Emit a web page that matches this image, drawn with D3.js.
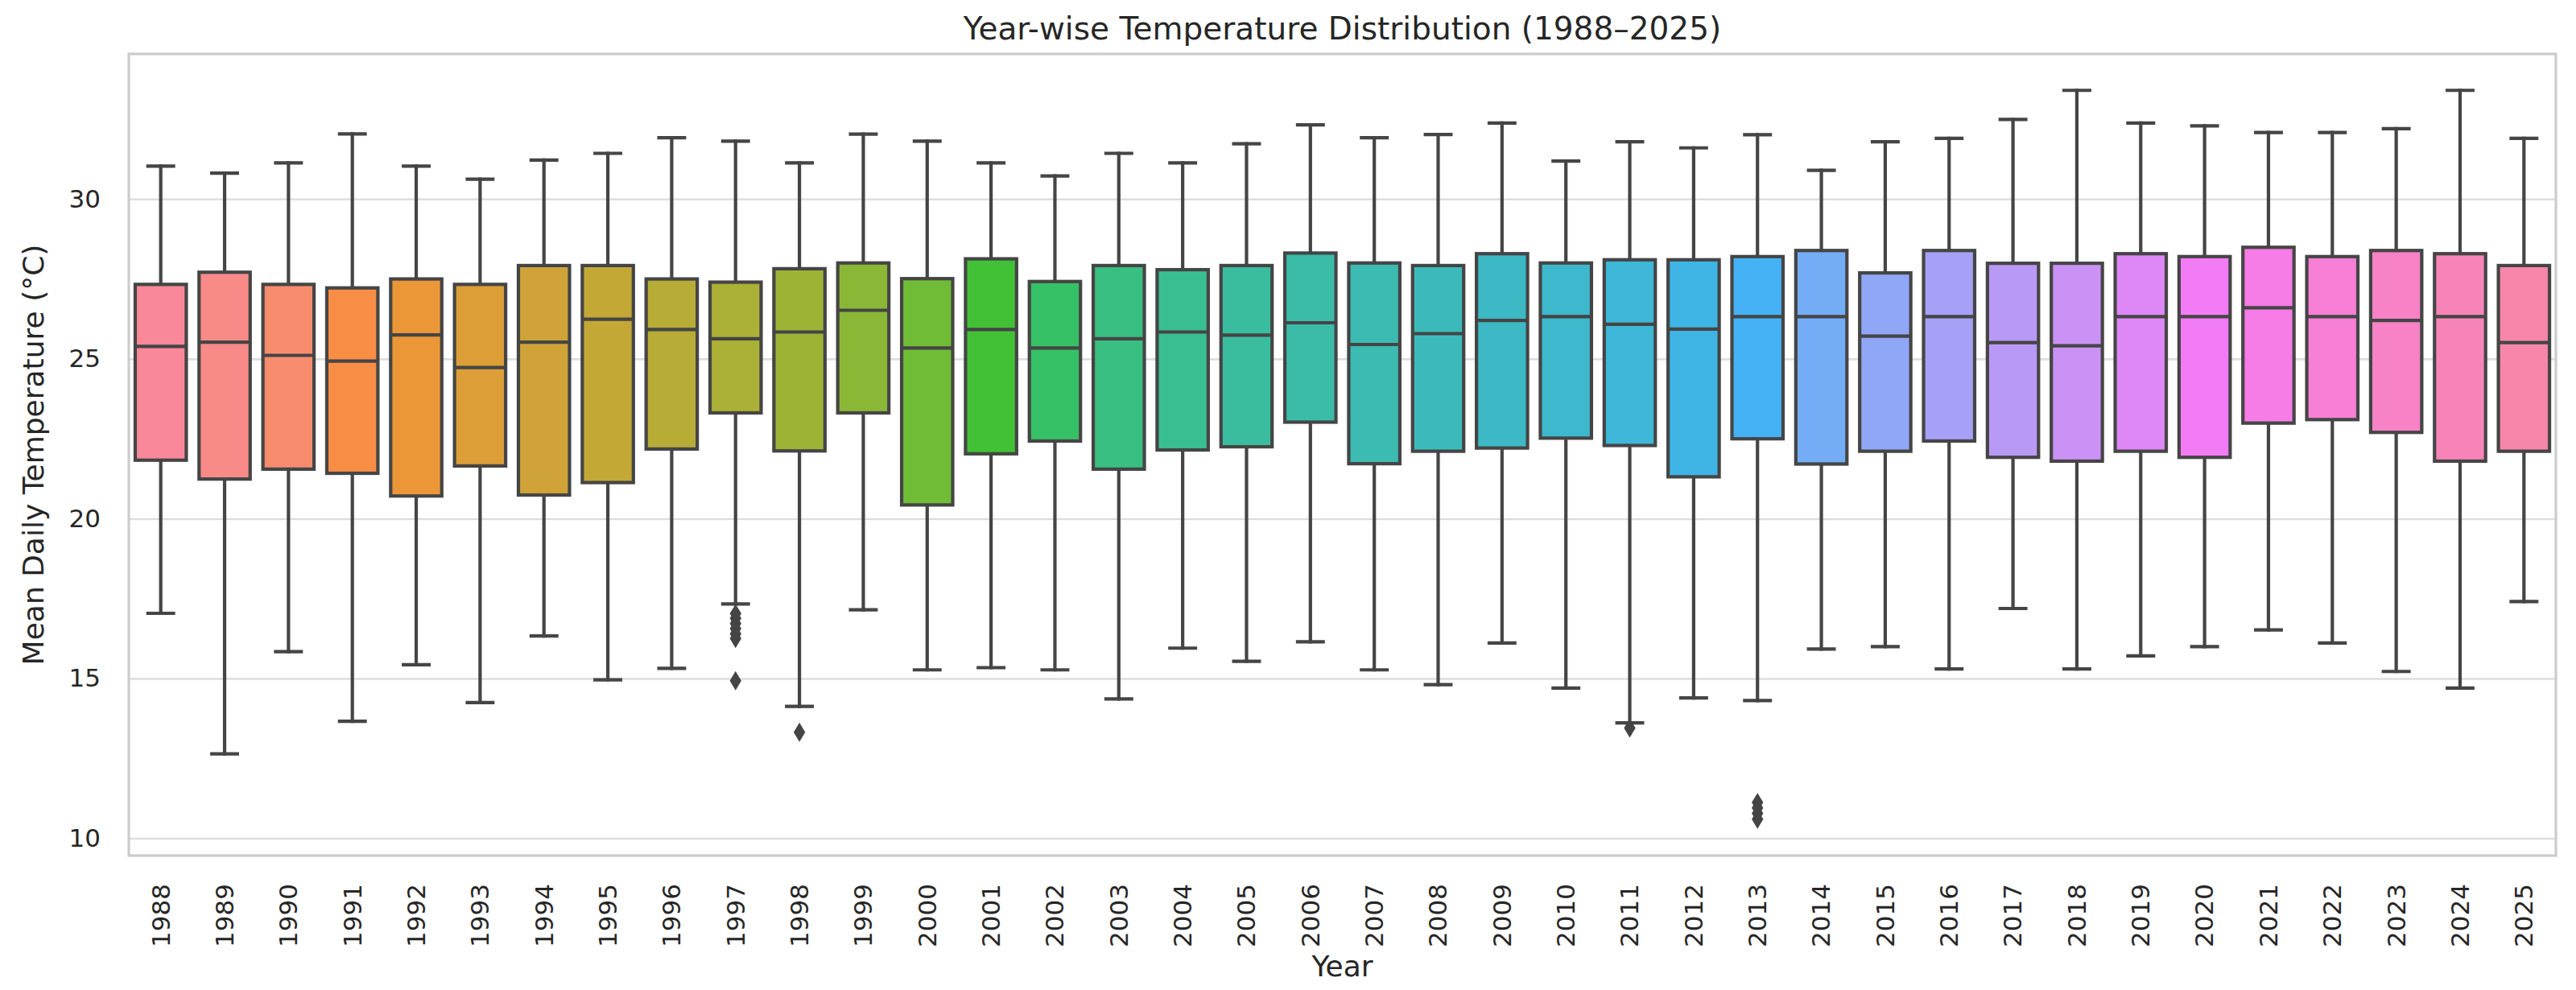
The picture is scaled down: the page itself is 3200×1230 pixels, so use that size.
<!DOCTYPE html>
<html>
<head>
<meta charset="utf-8">
<script src="https://cdn.jsdelivr.net/npm/d3@7"></script>
<style>
  body { margin: 0; background: #fff; }
  text { font-family: "DejaVu Sans", sans-serif; fill: #262626; }
</style>
</head>
<body>
<svg id="chart" width="3200" height="1230"></svg>
<script>
// values
var years = [1988, 1989, 1990, 1991, 1992, 1993, 1994, 1995, 1996, 1997,
             1998, 1999, 2000, 2001, 2002, 2003, 2004, 2005, 2006, 2007,
             2008, 2009, 2010, 2011, 2012, 2013, 2014, 2015, 2016, 2017,
             2018, 2019, 2020, 2021, 2022, 2023, 2024, 2025];

var whiskerLow = [17.04, 12.64, 15.84, 13.66, 15.43, 14.25, 16.33, 14.96, 15.32, 17.33,
                  14.13, 17.15, 15.27, 15.34, 15.27, 14.36, 15.95, 15.54, 16.15, 15.27,
                  14.81, 16.11, 14.70, 13.61, 14.39, 14.31, 15.92, 16.00, 15.30, 17.19,
                  15.30, 15.71, 16.00, 16.52, 16.11, 15.22, 14.70, 17.41];

var q1 = [21.83, 21.24, 21.55, 21.42, 20.71, 21.65, 20.74, 21.13, 22.18, 23.31,
          22.12, 23.31, 20.43, 22.03, 22.43, 21.55, 22.15, 22.25, 23.02, 21.72,
          22.11, 22.21, 22.52, 22.29, 21.31, 22.50, 21.71, 22.11, 22.43, 21.92,
          21.80, 22.11, 21.92, 22.99, 23.10, 22.70, 21.80, 22.11];

var median = [25.39, 25.52, 25.11, 24.93, 25.75, 24.73, 25.52, 26.24, 25.92, 25.63,
              25.84, 26.52, 25.34, 25.92, 25.34, 25.63, 25.84, 25.74, 26.13, 25.45,
              25.79, 26.20, 26.32, 26.08, 25.93, 26.32, 26.32, 25.71, 26.32, 25.51,
              25.41, 26.32, 26.32, 26.60, 26.32, 26.20, 26.32, 25.51];

var q3 = [27.33, 27.71, 27.33, 27.22, 27.50, 27.33, 27.92, 27.92, 27.50, 27.40,
          27.82, 28.00, 27.51, 28.13, 27.42, 27.92, 27.79, 27.92, 28.31, 28.00,
          27.92, 28.29, 28.00, 28.10, 28.10, 28.20, 28.39, 27.69, 28.39, 27.99,
          27.99, 28.29, 28.20, 28.49, 28.20, 28.39, 28.29, 27.92];

var whiskerHigh = [31.03, 30.81, 31.13, 32.04, 31.03, 30.62, 31.22, 31.43, 31.92, 31.81,
                   31.13, 32.03, 31.81, 31.13, 30.72, 31.43, 31.13, 31.73, 32.32, 31.92,
                   32.02, 32.38, 31.19, 31.79, 31.60, 32.01, 30.90, 31.79, 31.90, 32.49,
                   33.40, 32.38, 32.29, 32.08, 32.08, 32.20, 33.40, 31.90];

var outlierYears = [1997, 1998, 2011, 2013];
var outlierValues = [
  [17.03, 16.88, 16.72, 16.56, 16.40, 16.25, 14.93],
  [13.32],
  [13.45],
  [11.12, 10.95, 10.78, 10.60]
];

var yTicks = [10, 15, 20, 25, 30];
var yDomain = [9.46, 34.54];

// husl palette (s = .9, l = .7), same as seaborn's husl_palette
var M = [[3.2406, -1.5372, -0.4986], [-0.9689, 1.8758, 0.0415], [0.0557, -0.2040, 1.0570]];

function maxChroma(L, H) {
  var hrad = H / 180 * Math.PI, sinH = Math.sin(hrad), cosH = Math.cos(hrad);
  var sub1 = Math.pow(L + 16, 3) / 1560896;
  var sub2 = sub1 > 0.008856 ? sub1 : L / 903.3;
  var result = Infinity;
  M.forEach(function(row) {
    var tp = (0.99915 * row[0] + 1.05122 * row[1] + 1.14460 * row[2]) * sub2;
    var rbottom = 0.86330 * row[2] - 0.17266 * row[1];
    var lbottom = 0.12949 * row[2] - 0.38848 * row[0];
    var bt = (rbottom * sinH + lbottom * cosH) * sub2;
    [0, 1].forEach(function(t) {
      var C = L * (tp - 1.05122 * t) / (bt + 0.17266 * sinH * t);
      if (C > 0 && C < result) result = C;
    });
  });
  return result;
}

function huslToRgb(H, S, L) {
  var C = maxChroma(L, H) / 100 * S;
  var hrad = H / 180 * Math.PI;
  var U = Math.cos(hrad) * C, V = Math.sin(hrad) * C;
  var t = (L + 16) / 116;
  var varY = Math.pow(t, 3) > 0.008856 ? Math.pow(t, 3) : (116 * t - 16) / 903.3;
  var varU = U / (13 * L) + 0.19784, varV = V / (13 * L) + 0.46834;
  var Y = varY;
  var X = -(9 * Y * varU) / ((varU - 4) * varV - varU * varV);
  var Z = (9 * Y - 15 * varV * Y - varV * X) / (3 * varV);
  return M.map(function(row) {
    var c = row[0] * X + row[1] * Y + row[2] * Z;
    c = c <= 0.0031308 ? 12.92 * c : 1.055 * Math.pow(c, 1 / 2.4) - 0.055;
    return Math.max(0, Math.min(1, c));
  });
}

var colors = years.map(function(d, i) {
  var h = ((i / years.length + 0.01) % 1) * 359;
  var rgb = huslToRgb(h, 0.9 * 99, 0.7 * 99);
  return d3.hsl(d3.rgb(rgb[0] * 255, rgb[1] * 255, rgb[2] * 255));
});
var lum = d3.min(colors, function(c) { return c.l; }) * 0.6;
var gray = d3.rgb(lum * 255, lum * 255, lum * 255).formatHex();

var plotLeft = 160, plotRight = 3175, plotTop = 67, plotBottom = 1063;

var svg = d3.select("#chart");

var x = d3.scaleBand().domain(years).range([plotLeft, plotRight]).paddingInner(0.2).paddingOuter(0.1);
var y = d3.scaleLinear().domain(yDomain).range([plotBottom, plotTop]);
var bw = x.bandwidth();

// grid
svg.append("g")
  .attr("transform", "translate(" + plotLeft + ",0)")
  .call(d3.axisLeft(y).tickValues(yTicks).tickSize(-(plotRight - plotLeft)).tickFormat(""))
  .call(function(g) {
    g.select(".domain").remove();
    g.selectAll("line").attr("stroke", "#dedede").attr("stroke-width", 2.6);
  });

// frame
svg.append("rect")
  .attr("x", plotLeft).attr("y", plotTop)
  .attr("width", plotRight - plotLeft).attr("height", plotBottom - plotTop)
  .attr("fill", "none").attr("stroke", "#cccccc").attr("stroke-width", 3.2);

var stats = years.map(function(yr, i) {
  var k = outlierYears.indexOf(yr);
  return {year: yr, lo: whiskerLow[i], q1: q1[i], med: median[i], q3: q3[i],
          hi: whiskerHigh[i], fliers: k >= 0 ? outlierValues[k] : [], color: colors[i]};
});

var boxes = svg.append("g").selectAll("g")
  .data(stats)
  .enter()
  .append("g");

function cx(d) { return x(d.year) + bw / 2; }

// whiskers
boxes.append("line")
  .attr("x1", cx).attr("x2", cx)
  .attr("y1", function(d) { return y(d.q1); })
  .attr("y2", function(d) { return y(d.lo); });
boxes.append("line")
  .attr("x1", cx).attr("x2", cx)
  .attr("y1", function(d) { return y(d.q3); })
  .attr("y2", function(d) { return y(d.hi); });

// caps
boxes.append("line")
  .attr("x1", function(d) { return cx(d) - bw / 4; })
  .attr("x2", function(d) { return cx(d) + bw / 4; })
  .attr("y1", function(d) { return y(d.lo); })
  .attr("y2", function(d) { return y(d.lo); });
boxes.append("line")
  .attr("x1", function(d) { return cx(d) - bw / 4; })
  .attr("x2", function(d) { return cx(d) + bw / 4; })
  .attr("y1", function(d) { return y(d.hi); })
  .attr("y2", function(d) { return y(d.hi); });

boxes.selectAll("line")
  .attr("stroke", gray).attr("stroke-width", 4.2).attr("stroke-linecap", "square");

// box body
boxes.append("rect")
  .attr("x", function(d) { return x(d.year); })
  .attr("width", bw)
  .attr("y", function(d) { return y(d.q3); })
  .attr("height", function(d) { return y(d.q1) - y(d.q3); })
  .attr("fill", function(d) { return d.color; })
  .attr("stroke", gray).attr("stroke-width", 4.2);

// median
boxes.append("line")
  .attr("x1", function(d) { return x(d.year); })
  .attr("x2", function(d) { return x(d.year) + bw; })
  .attr("y1", function(d) { return y(d.med); })
  .attr("y2", function(d) { return y(d.med); })
  .attr("stroke", gray).attr("stroke-width", 4.2);

// fliers, thin diamonds
boxes.selectAll("path.flier")
  .data(function(d) { return d.fliers.map(function(v) { return {year: d.year, v: v}; }); })
  .enter()
  .append("path")
  .attr("class", "flier")
  .attr("d", "M0,-9.8L5.9,0L0,9.8L-5.9,0Z")
  .attr("transform", function(d) { return "translate(" + (x(d.year) + bw / 2) + "," + y(d.v) + ")"; })
  .attr("fill", gray).attr("stroke", gray).attr("stroke-width", 2.2);

// y axis labels
svg.append("g")
  .attr("transform", "translate(" + plotLeft + ",0)")
  .call(d3.axisLeft(y).tickValues(yTicks).tickSize(0).tickPadding(35))
  .call(function(g) {
    g.select(".domain").remove();
    g.selectAll("text").attr("font-size", 31).attr("font-family", "DejaVu Sans").attr("fill", "#262626");
  });

// x axis labels
svg.append("g")
  .attr("transform", "translate(0," + plotBottom + ")")
  .call(d3.axisBottom(x).tickSize(0))
  .call(function(g) {
    g.select(".domain").remove();
    g.selectAll("text")
      .attr("font-size", 31).attr("font-family", "DejaVu Sans").attr("fill", "#262626")
      .attr("transform", "rotate(-90)")
      .attr("x", -35).attr("y", 0).attr("dy", "0.35em")
      .style("text-anchor", "end");
  });

// titles
svg.append("text")
  .attr("x", (plotLeft + plotRight) / 2).attr("y", 49)
  .attr("text-anchor", "middle").attr("font-size", 39)
  .text("Year-wise Temperature Distribution (1988–2025)");

svg.append("text")
  .attr("x", (plotLeft + plotRight) / 2).attr("y", 1213)
  .attr("text-anchor", "middle").attr("font-size", 36)
  .text("Year");

svg.append("text")
  .attr("transform", "translate(54," + (plotTop + plotBottom) / 2 + ") rotate(-90)")
  .attr("text-anchor", "middle").attr("font-size", 36)
  .text("Mean Daily Temperature (°C)");
</script>
</body>
</html>
